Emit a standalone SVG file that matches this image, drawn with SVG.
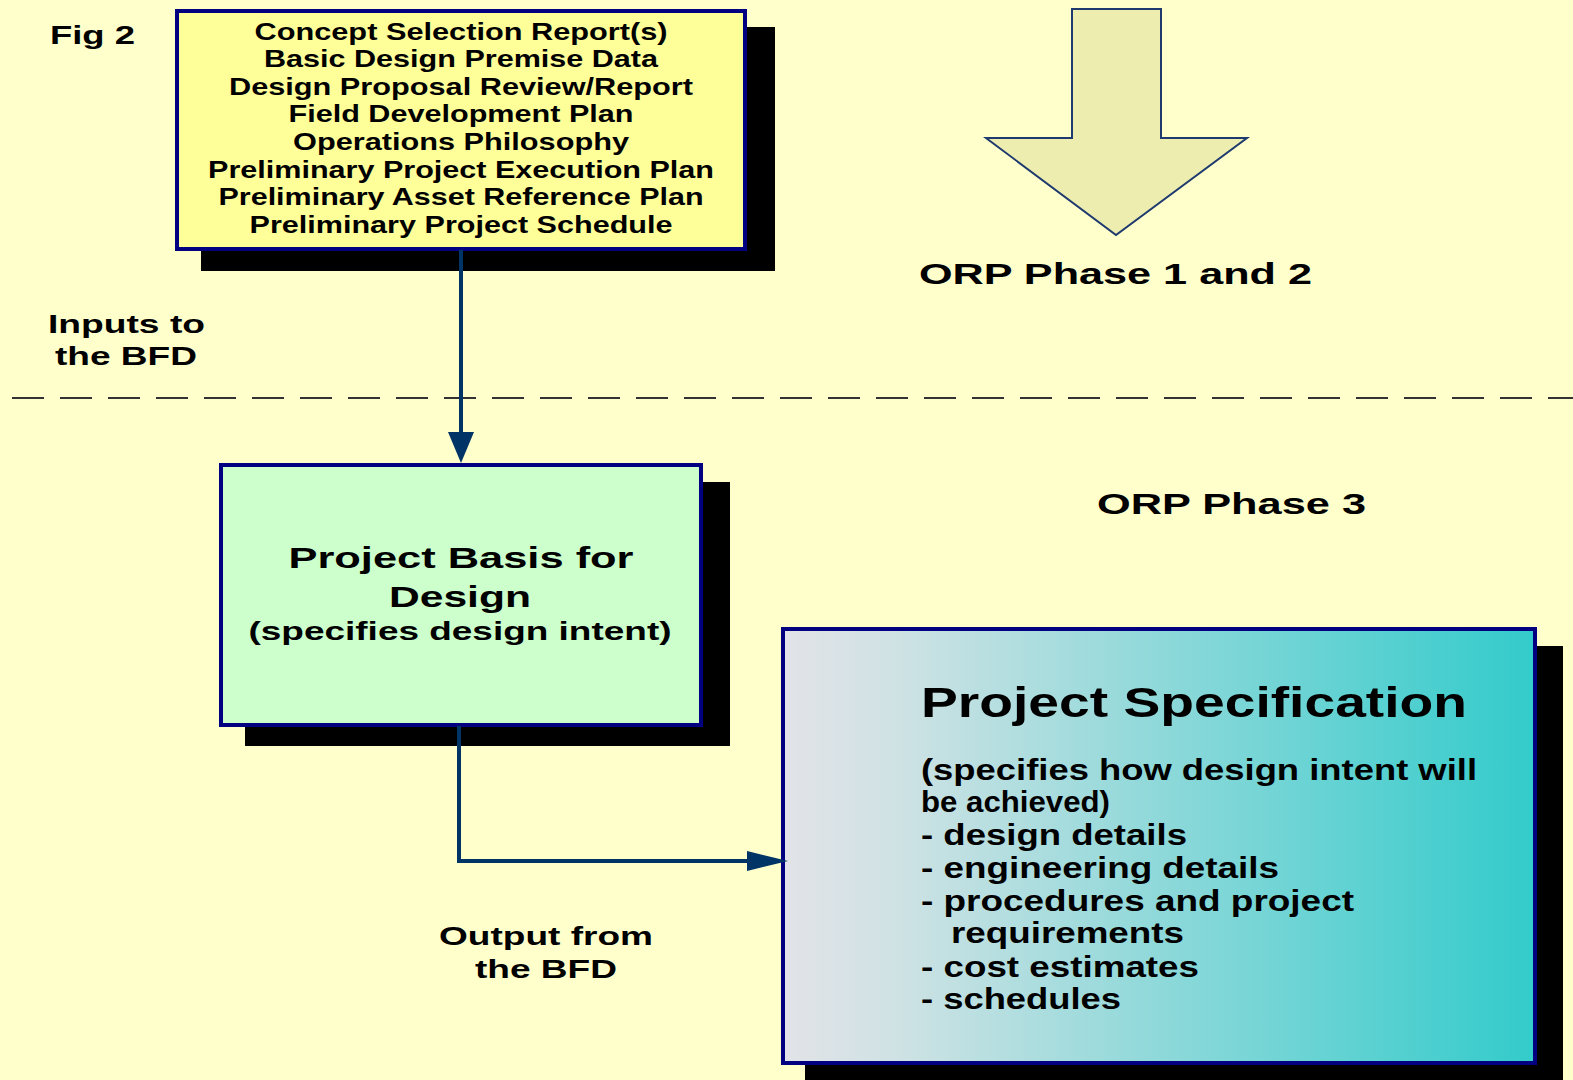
<svg xmlns="http://www.w3.org/2000/svg" width="1573" height="1080" viewBox="0 0 1573 1080">
  <defs>
    <style>
      .t { font-family: "Liberation Sans", Arial, sans-serif; font-weight: bold; fill: #000; }
      .c { text-anchor: middle; }
      .box { stroke: #000080; stroke-width: 4; }
      .shadow { fill: #000; }
      .wire { fill: none; stroke: #003366; stroke-width: 4; }
      .tip { fill: #003366; }
    </style>
    <linearGradient id="specFill" x1="0" y1="0" x2="1" y2="0">
      <stop offset="0" stop-color="#e2e3e8"/>
      <stop offset="0.15" stop-color="#cfe2e4"/>
      <stop offset="1" stop-color="#33cbcb"/>
    </linearGradient>
  </defs>

  <!-- page background -->
  <rect x="0" y="0" width="1573" height="1080" fill="#ffffcc"/>

  <!-- phase divider -->
  <line x1="12" y1="398" x2="1573" y2="398" stroke="#333333" stroke-width="2" stroke-dasharray="32,16"/>

  <!-- free labels -->
  <text class="t" x="50" y="44" font-size="26" textLength="85" lengthAdjust="spacingAndGlyphs">Fig 2</text>
  <text class="t" x="48" y="333" font-size="26" textLength="157" lengthAdjust="spacingAndGlyphs">Inputs to</text>
  <text class="t" x="55" y="365" font-size="26" textLength="142" lengthAdjust="spacingAndGlyphs">the BFD</text>
  <text class="t" x="919" y="284" font-size="29" textLength="393" lengthAdjust="spacingAndGlyphs">ORP Phase 1 and 2</text>
  <text class="t" x="1097" y="514" font-size="29" textLength="269" lengthAdjust="spacingAndGlyphs">ORP Phase 3</text>
  <text class="t" x="439" y="945" font-size="26" textLength="214" lengthAdjust="spacingAndGlyphs">Output from</text>
  <text class="t" x="475" y="978" font-size="26" textLength="142" lengthAdjust="spacingAndGlyphs">the BFD</text>

  <!-- block arrow for phases 1 and 2 -->
  <g id="phase-arrow">
    <polygon points="1072,9 1161,9 1161,138 1247,138 1116,235 986,138 1072,138" fill="#ecedaf" stroke="#1f3a6e" stroke-width="2"/>
  </g>

  <!-- inputs node -->
  <g id="inputs">
    <rect class="shadow" x="201" y="27" width="574" height="244"/>
    <rect class="box" x="177" y="11" width="568" height="238" fill="#ffff99"/>
    <text class="t c" x="461" y="40" font-size="24" textLength="413" lengthAdjust="spacingAndGlyphs">Concept Selection Report(s)</text>
    <text class="t c" x="461" y="67" font-size="24" textLength="394" lengthAdjust="spacingAndGlyphs">Basic Design Premise Data</text>
    <text class="t c" x="461" y="95" font-size="24" textLength="464" lengthAdjust="spacingAndGlyphs">Design Proposal Review/Report</text>
    <text class="t c" x="461" y="122" font-size="24" textLength="345" lengthAdjust="spacingAndGlyphs">Field Development Plan</text>
    <text class="t c" x="461" y="150" font-size="24" textLength="336" lengthAdjust="spacingAndGlyphs">Operations Philosophy</text>
    <text class="t c" x="461" y="178" font-size="24" textLength="506" lengthAdjust="spacingAndGlyphs">Preliminary Project Execution Plan</text>
    <text class="t c" x="461" y="205" font-size="24" textLength="485" lengthAdjust="spacingAndGlyphs">Preliminary Asset Reference Plan</text>
    <text class="t c" x="461" y="233" font-size="24" textLength="423" lengthAdjust="spacingAndGlyphs">Preliminary Project Schedule</text>
  </g>

  <!-- basis for design node -->
  <g id="basis">
    <rect class="shadow" x="245" y="482" width="485" height="264"/>
    <rect class="box" x="221" y="465" width="480" height="260" fill="#ccffcc"/>
    <text class="t c" x="461" y="568" font-size="30" textLength="345" lengthAdjust="spacingAndGlyphs">Project Basis for</text>
    <text class="t c" x="460" y="607" font-size="30" textLength="142" lengthAdjust="spacingAndGlyphs">Design</text>
    <text class="t c" x="460" y="640" font-size="26" textLength="423" lengthAdjust="spacingAndGlyphs">(specifies design intent)</text>
  </g>

  <!-- project specification node -->
  <g id="spec">
    <rect class="shadow" x="805" y="646" width="758" height="440"/>
    <rect class="box" x="783" y="629" width="752" height="434" fill="url(#specFill)"/>
    <text class="t" x="921" y="717" font-size="43" textLength="546" lengthAdjust="spacingAndGlyphs">Project Specification</text>
    <text class="t" x="921" y="780" font-size="30" textLength="556" lengthAdjust="spacingAndGlyphs">(specifies how design intent will</text>
    <text class="t" x="921" y="812" font-size="30" textLength="189" lengthAdjust="spacingAndGlyphs">be achieved)</text>
    <text class="t" x="921" y="845" font-size="30" textLength="266" lengthAdjust="spacingAndGlyphs">- design details</text>
    <text class="t" x="921" y="878" font-size="30" textLength="358" lengthAdjust="spacingAndGlyphs">- engineering details</text>
    <text class="t" x="921" y="911" font-size="30" textLength="433" lengthAdjust="spacingAndGlyphs">- procedures and project</text>
    <text class="t" x="951" y="943" font-size="30" textLength="233" lengthAdjust="spacingAndGlyphs">requirements</text>
    <text class="t" x="921" y="977" font-size="30" textLength="278" lengthAdjust="spacingAndGlyphs">- cost estimates</text>
    <text class="t" x="921" y="1009" font-size="30" textLength="200" lengthAdjust="spacingAndGlyphs">- schedules</text>
  </g>

  <!-- connectors -->
  <g id="connectors">
    <path class="wire" d="M461,250 L461,434"/>
    <polygon class="tip" points="448,432 474,432 461,463"/>
    <path class="wire" d="M459,726 L459,861 L750,861"/>
    <polygon class="tip" points="747,851 788,861 747,871"/>
  </g>
</svg>
